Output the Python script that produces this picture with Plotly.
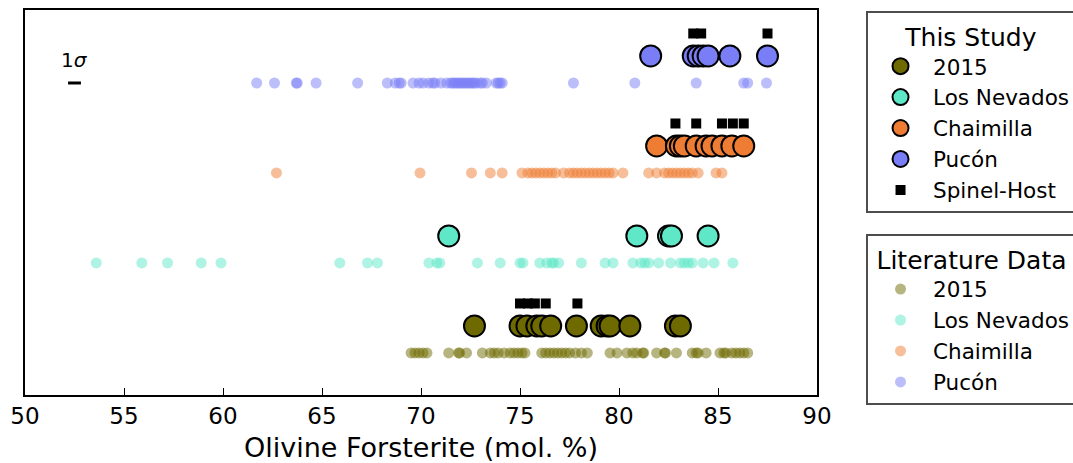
import plotly.graph_objects as go

# ---- Olivine forsterite (mol. %) -------------------------------------------
# This study: melt-inclusion host olivines
study_2015 = [72.7, 75.0, 75.35, 75.85, 76.1, 76.55, 77.85, 79.1, 79.4, 79.55, 80.55, 82.85, 83.1]
study_nevados = [71.4, 80.9, 82.5, 82.65, 84.5]
study_chaimilla = [81.9, 82.9, 83.1, 83.3, 83.9, 84.4, 84.7, 85.2, 85.7, 86.3]
study_pucon = [81.6, 83.75, 84.0, 84.25, 84.5, 85.6, 87.5]

# This study: spinel-hosted inclusions
spinel_2015 = [75.0, 75.4, 75.75, 76.3, 77.9]
spinel_chaimilla = [82.85, 83.9, 85.2, 85.75, 86.3]
spinel_pucon = [83.75, 84.15, 87.5]

# Literature compilations
lit_2015 = [69.5, 69.7, 69.9, 70.1, 70.3,
            71.4, 71.9, 71.95, 72.3,
            73.1, 73.5, 73.7, 73.9, 74.2, 74.5, 74.7, 74.9, 75.1, 75.25,
            76.1, 76.3, 76.5, 76.7, 76.9, 77.1, 77.3, 77.5, 77.8, 78.1, 78.4,
            79.55, 79.9, 80.4, 80.7, 80.9, 81.2, 81.25,
            81.9, 82.3, 82.35, 82.9,
            83.7, 83.9, 84.0, 84.4,
            85.1, 85.3, 85.4, 85.7, 85.9, 86.1, 86.3, 86.5]
lit_nevados = [53.6, 55.9, 57.2, 58.9, 59.9, 65.9, 67.3, 67.8, 70.4, 70.8, 70.95,
               72.85, 74.0, 75.0, 75.15, 76.0, 76.35, 76.6, 76.7, 76.95, 78.1,
               79.3, 79.7, 80.7, 81.1, 81.3, 81.5, 82.0, 82.6, 83.1, 83.3, 83.5,
               83.7, 84.25, 84.8, 85.75]
lit_chaimilla = [62.7, 69.95, 72.55, 73.5, 74.1, 75.1, 75.4, 75.6, 75.8, 76.0, 76.2,
                 76.4, 76.6, 76.8, 77.2, 77.5, 77.7, 77.9, 78.1, 78.3, 78.5, 78.7,
                 78.9, 79.1, 79.3, 79.5, 79.7, 80.2, 81.5, 81.9, 82.3, 82.5, 82.7,
                 82.9, 83.1, 83.3, 83.5, 83.7, 84.0, 84.9, 85.2]
lit_pucon = [61.7, 62.6, 63.7, 63.75, 64.7, 66.8, 68.3, 68.7, 68.9, 69.0, 69.6, 69.9,
             70.1, 70.4, 70.6, 70.7, 71.0, 71.3, 71.5, 71.6, 71.7, 71.8, 71.9, 72.0,
             72.1, 72.2, 72.3, 72.4, 72.5, 72.6, 72.7, 72.8, 73.0, 73.1, 73.3, 73.8,
             73.9, 74.0, 74.1, 77.7, 80.8, 83.9, 86.3, 86.5, 87.45]

groups = ["2015", "Los Nevados", "Chaimilla", "Pucón"]
row_of = {"2015": 1, "Los Nevados": 2, "Chaimilla": 3, "Pucón": 4}
colors = {"2015": "#6e6a00", "Los Nevados": "#5ee8c8",
          "Chaimilla": "#ee7d33", "Pucón": "#7a7ef6"}
study = {"2015": study_2015, "Los Nevados": study_nevados,
         "Chaimilla": study_chaimilla, "Pucón": study_pucon}
spinel = {"2015": spinel_2015, "Chaimilla": spinel_chaimilla, "Pucón": spinel_pucon}
lit = {"2015": lit_2015, "Los Nevados": lit_nevados,
       "Chaimilla": lit_chaimilla, "Pucón": lit_pucon}

LIT_OFFSET = -0.3     # literature row sits below each group
SPINEL_OFFSET = 0.25  # spinel-host squares sit above each group
SIGMA = 0.65          # 1-sigma analytical uncertainty in Fo

FONT = "DejaVu Sans"
fig = go.Figure()

# literature data (drawn first, underneath)
for g in groups:
    fig.add_trace(go.Scatter(
        x=lit[g], y=[row_of[g] + LIT_OFFSET] * len(lit[g]),
        mode="markers", name=g, legend="legend2",
        marker=dict(size=11, color=colors[g], opacity=0.5, line=dict(width=0)),
    ))

# this study
for g in groups:
    fig.add_trace(go.Scatter(
        x=study[g], y=[row_of[g]] * len(study[g]),
        mode="markers", name=g, legend="legend",
        marker=dict(size=21, color=colors[g], line=dict(color="black", width=2)),
    ))

sp_x, sp_y = [], []
for g, vals in spinel.items():
    sp_x += vals
    sp_y += [row_of[g] + SPINEL_OFFSET] * len(vals)
fig.add_trace(go.Scatter(
    x=sp_x, y=sp_y, mode="markers", name="Spinel-Host", legend="legend",
    marker=dict(symbol="square", size=10, color="black", line=dict(width=0)),
))

# 1-sigma scale bar
sig_x0 = 52.5
fig.add_trace(go.Scatter(
    x=[sig_x0 - SIGMA / 2, sig_x0 + SIGMA / 2],
    y=[row_of["Pucón"] + LIT_OFFSET] * 2,
    mode="lines", line=dict(color="black", width=3), showlegend=False,
    hoverinfo="skip",
))
fig.add_annotation(x=sig_x0, y=row_of["Pucón"] - 0.05, text="1<i>σ</i>",
                   showarrow=False, font=dict(family=FONT, size=20, color="black"),
                   xanchor="center", yanchor="middle")

fig.update_xaxes(
    range=[50, 90], tickvals=[50, 55, 60, 65, 70, 75, 80, 85, 90],
    ticks="inside", ticklen=7, tickwidth=1.3, tickcolor="black",
    showline=True, linecolor="black", linewidth=1.6, mirror=True,
    showgrid=False, zeroline=False,
    tickfont=dict(family=FONT, size=23, color="black"),
    title=dict(text="Olivine Forsterite (mol. %)", standoff=12,
               font=dict(family=FONT, size=27, color="black")),
)
fig.update_yaxes(
    range=[0.233, 4.511], showticklabels=False, ticks="",
    showline=True, linecolor="black", linewidth=1.6, mirror=True,
    showgrid=False, zeroline=False,
)

legend_common = dict(
    xanchor="left", yanchor="top", bgcolor="white",
    bordercolor="#4d4d4d", borderwidth=2, itemwidth=55,
    font=dict(family=FONT, size=21.5, color="black"),
    tracegroupgap=0,
)
fig.update_layout(
    width=1073, height=463,
    margin=dict(l=25, r=256, t=10, b=68, autoexpand=False),
    paper_bgcolor="white", plot_bgcolor="white",
    font=dict(family=FONT, color="black"),
    showlegend=True,
    legend=dict(x=1.0619, y=0.997,
                title=dict(text="This Study", side="top center",
                           font=dict(family=FONT, size=25, color="black")),
                **legend_common),
    legend2=dict(x=1.0619, y=0.418,
                 title=dict(text="Literature Data", side="top center",
                            font=dict(family=FONT, size=25, color="black")),
                 **legend_common),
)

fig.write_html("out.html")
